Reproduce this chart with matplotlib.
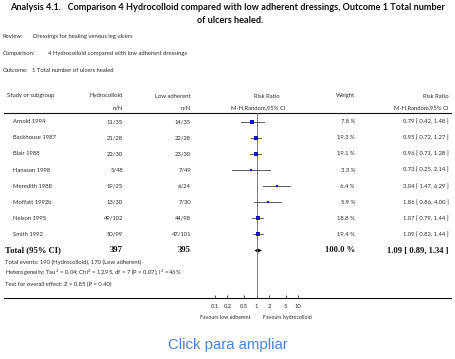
import numpy as np
import matplotlib.pyplot as plt
from matplotlib.patches import Polygon
from matplotlib.ticker import FixedLocator, NullLocator

studies = ['Arnold 1994', 'Backhouse 1987', 'Blair 1988', 'Hansson 1998',
           'Meredith 1988', 'Moffatt 1992b', 'Nelson 1995', 'Smith 1992']
hydro_events = [11, 21, 22, 5, 19, 13, 49, 50]
hydro_n = [35, 28, 30, 48, 25, 30, 102, 99]
low_events = [14, 22, 23, 7, 6, 7, 44, 47]
low_n = [35, 28, 30, 49, 24, 30, 98, 101]
weights = [7.8, 19.3, 19.1, 3.3, 6.4, 5.9, 18.8, 19.4]
rr = [0.79, 0.95, 0.96, 0.73, 3.04, 1.86, 1.07, 1.09]
rr_lo = [0.42, 0.72, 0.71, 0.25, 1.47, 0.86, 0.79, 0.82]
rr_hi = [1.48, 1.27, 1.28, 2.14, 6.29, 4.00, 1.44, 1.44]
total_rr, total_lo, total_hi = 1.09, 0.89, 1.34
ticks = [0.1, 0.2, 0.5, 1, 2, 5, 10]
tick_labels = ['0.1', '0.2', '0.5', '1', '2', '5', '10']

W, H = 456, 359
fig = plt.figure(figsize=(W / 100, H / 100), dpi=100)
ax0 = fig.add_axes([0, 0, 1, 1])
ax0.set_xlim(0, W)
ax0.set_ylim(H, 0)
ax0.axis('off')

sans = 'Lato'
fs = 4.2
tc = '#2a2a2a'

def t(x, y, s, ha='left', **kw):
    kw.setdefault('fontsize', fs)
    kw.setdefault('family', sans)
    kw.setdefault('color', tc)
    ax0.text(x, y, s, ha=ha, va='center', **kw)

# title
t(10, 7.5, 'Analysis 4.1.   Comparison 4 Hydrocolloid compared with low adherent dressings, Outcome 1 Total number',
  fontsize=6.55, fontweight='bold', color='#111')
t(230, 20.5, 'of ulcers healed.', ha='center', fontsize=6.55, fontweight='bold', color='#111')

t(3, 36.5, 'Review:'); t(33, 36.5, 'Dressings for healing venous leg ulcers')
t(3, 53.5, 'Comparison:'); t(48, 53.5, '4 Hydrocolloid compared with low adherent dressings')
t(3, 71, 'Outcome:'); t(32, 71, '1 Total number of ulcers healed')

# headers
t(7, 96, 'Study or subgroup')
t(123, 96, 'Hydrocolloid', ha='right'); t(123, 107.5, 'n/N', ha='right')
t(191, 96, 'Low adherent', ha='right'); t(191, 107.5, 'n/N', ha='right')
t(267, 96, 'Risk Ratio', ha='center'); t(258, 107.5, 'M-H,Random,95% CI', ha='center')
t(355, 96, 'Weight', ha='right')
t(449, 96, 'Risk Ratio', ha='right'); t(449, 107.5, 'M-H,Random,95% CI', ha='right')
ax0.plot([4, 451], [113.3, 113.3], color='#111', lw=0.8)
ax0.plot([4, 451], [298.3, 298.3], color='#111', lw=0.8)

row0, step = 121.7, 16.1
for i, name in enumerate(studies):
    y = row0 + i * step
    t(13, y, name)
    t(123, y, f'{hydro_events[i]}/{hydro_n[i]}', ha='right')
    t(191, y, f'{low_events[i]}/{low_n[i]}', ha='right')
    t(355, y, f'{weights[i]:.1f} %', ha='right')
    t(449, y, f'{rr[i]:.2f} [ {rr_lo[i]:.2f}, {rr_hi[i]:.2f} ]', ha='right')

ytot = row0 + len(studies) * step
serif = dict(family='Liberation Serif', fontweight='bold', fontsize=6.2, color='#111')
t(5, ytot, 'Total (95% CI)', **serif)
t(123, ytot, str(sum(hydro_n)), ha='right', **serif)
t(191, ytot, str(sum(low_n)), ha='right', **serif)
t(355, ytot, f'{sum(weights):.1f} %', ha='right', **serif)
t(449, ytot, f'{total_rr:.2f} [ {total_lo:.2f}, {total_hi:.2f} ]', ha='right', **serif)

t(5, 262.3, f'Total events: {sum(hydro_events)} (Hydrocolloid), {sum(low_events)} (Low adherent)')
t(5, 273.3, 'Heterogeneity: Tau$^2$ = 0.04; Chi$^2$ = 12.95, df = 7 (P = 0.07); I$^2$ =46%')
t(5, 284.3, 'Test for overall effect: Z = 0.85 (P = 0.40)')

t(251, 317.5, 'Favours low adherent', ha='right', fontsize=3.8)
t(263, 317.5, 'Favours hydrocolloid', fontsize=3.8)

t(228, 345, 'Click para ampliar', ha='center', family='Liberation Sans',
  fontsize=10.8, color='#4a84d6')

# forest plot axes: x log scale 0.1..10 over pixels 215..298
x0, x1 = 215, 298
ytop, ybot = 113.3, 298.3
axf = fig.add_axes([x0 / W, (H - ybot) / H, (x1 - x0) / W, (ybot - ytop) / H])
axf.set_xscale('log')
axf.set_xlim(0.1, 10)
axf.set_ylim((ybot - row0) / step, (ytop - row0) / step)
axf.patch.set_alpha(0)
for s in axf.spines.values():
    s.set_visible(False)
axf.yaxis.set_major_locator(NullLocator())
axf.xaxis.set_major_locator(FixedLocator(ticks))
axf.xaxis.set_minor_locator(NullLocator())
axf.set_xticklabels(tick_labels, fontsize=fs, family=sans, color=tc)
axf.tick_params(axis='x', direction='in', length=2.2, width=0.5, pad=4, color='#111')

axf.axvline(1, color='#666', lw=0.6)
for i in range(len(studies)):
    axf.plot([rr_lo[i], rr_hi[i]], [i, i], color='#444', lw=0.6, clip_on=False)
    axf.plot(rr[i], i, marker='s', color='#1414c8', markeredgewidth=0,
             markersize=2.8 * np.sqrt(weights[i] / 19.3) + 0.4, clip_on=False)

n = len(studies)
dh = 0.12
axf.add_patch(Polygon([[total_lo, n], [total_rr, n - dh], [total_hi, n], [total_rr, n + dh]],
                      closed=True, color='black', lw=0))

fig.savefig('out.png', dpi=100)
